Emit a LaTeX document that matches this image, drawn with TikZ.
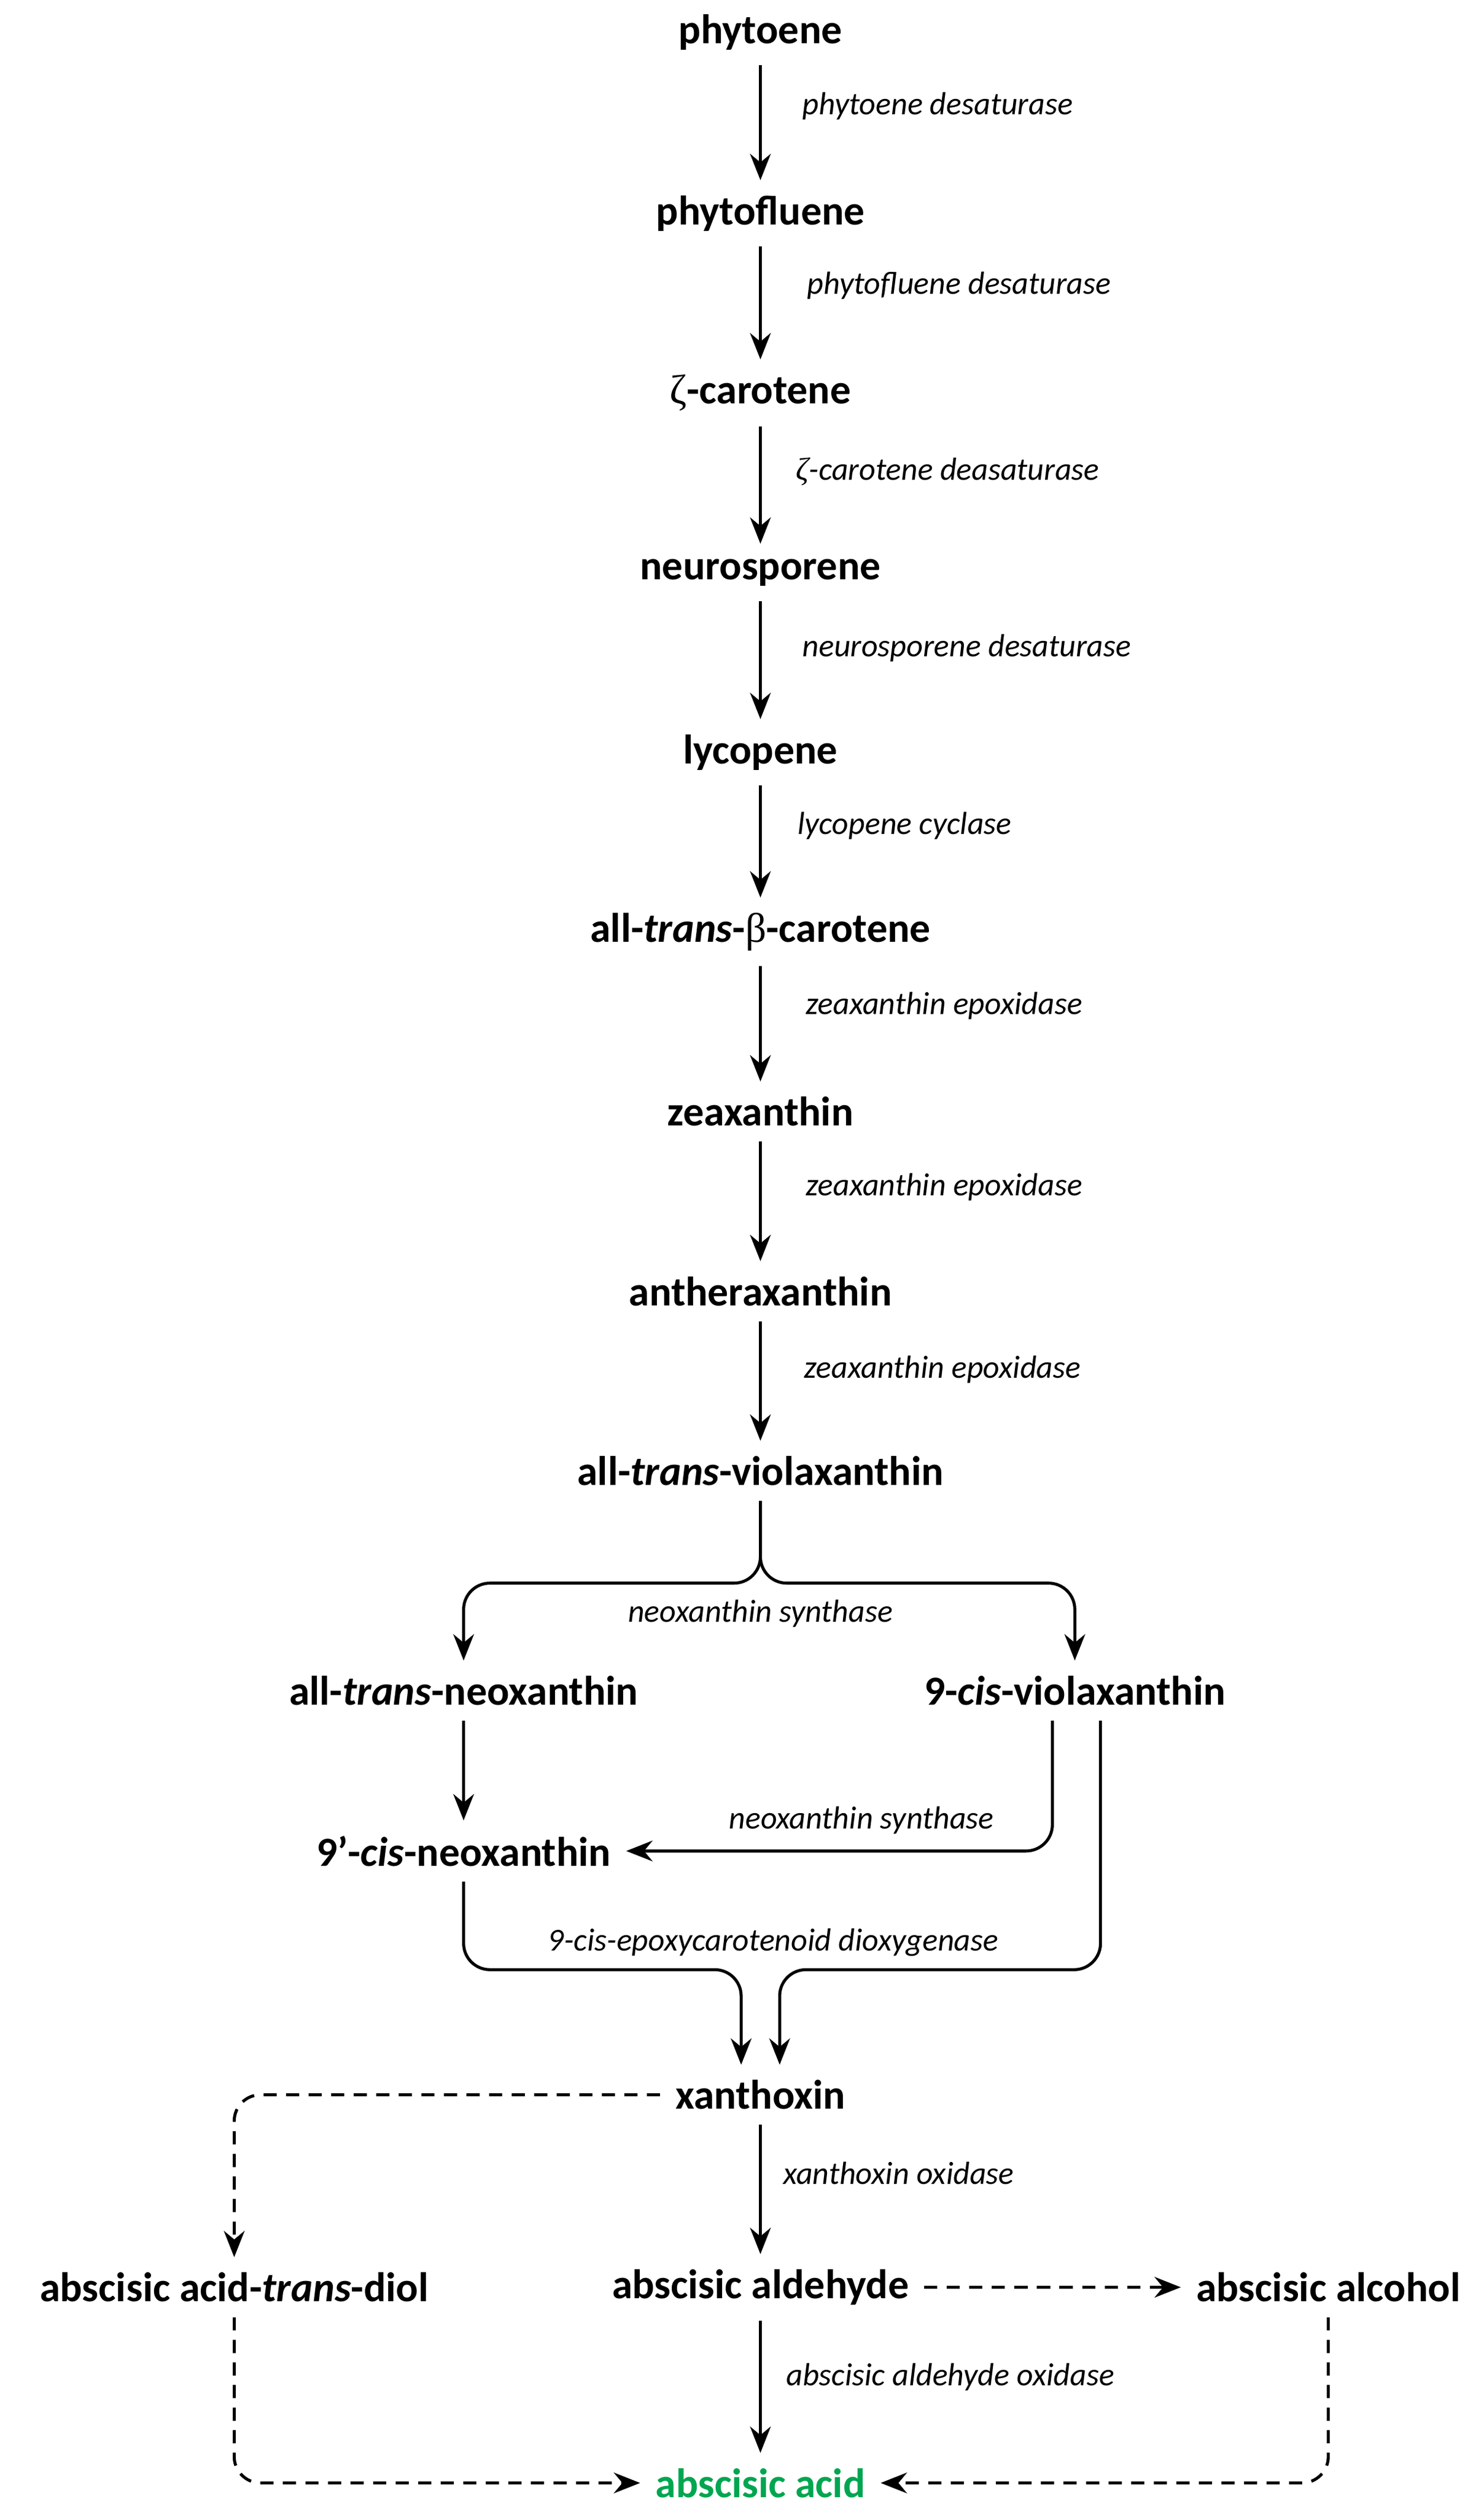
\documentclass[tikz,border=0pt]{standalone}
\usepackage{fontspec}
\setmainfont{Carlito}
\newfontfamily\gr{Liberation Serif}
\usetikzlibrary{arrows.meta}
\begin{document}
\begin{tikzpicture}[x=0.03cm,y=-0.03cm,
  comp/.style={font=\fontsize{22}{26}\selectfont\bfseries,inner sep=8pt},
  enz/.style={font=\fontsize{17}{20}\selectfont\itshape,anchor=west,inner sep=0pt},
  arr/.style={line width=1.6pt,-{Stealth[length=14pt,width=11pt]}},
  dsh/.style={arr,dash pattern=on 7pt off 5pt},
  rounded corners=14pt]
\useasboundingbox (0,0) rectangle (925,1568);
\node[comp] (a) at (474,20) {phytoene};
\node[comp] (b) at (474,133) {phytofluene};
\node[comp] (c) at (474,245) {{\gr\mdseries ζ}-carotene};
\node[comp] (d) at (474,357) {neurosporene};
\node[comp] (e) at (474,469) {lycopene};
\node[comp] (f) at (474,581) {all-\textit{trans}-{\gr\mdseries β}-carotene};
\node[comp] (g) at (474,693) {zeaxanthin};
\node[comp] (h) at (474,805) {antheraxanthin};
\node[comp] (i) at (474,917) {all-\textit{trans}-violaxanthin};
\node[comp] (j) at (289,1054) {all-\textit{trans}-neoxanthin};
\node[comp] (k) at (670,1054) {9-\textit{cis}-violaxanthin};
\node[comp] (l) at (289,1154) {9'-\textit{cis}-neoxanthin};
\node[comp] (m) at (474,1306) {xanthoxin};
\node[comp] (n) at (146,1426) {abscisic acid-\textit{trans}-diol};
\node[comp] (o) at (474,1426) {abscisic aldehyde};
\node[comp] (p) at (828,1426) {abscisic alcohol};
\node[comp,text={rgb,255:red,0;green,166;blue,80}] (q) at (474,1548) {abscisic acid};
\foreach \u/\v in {a/b,b/c,c/d,d/e,e/f,f/g,g/h,h/i,j/l,m/o,o/q}
  \draw[arr] (\u.south) -- (\v.north);
\node[enz] at (500,66) {phytoene desaturase};
\node[enz] at (503,178) {phytofluene desaturase};
\node[enz] at (496,294) {{\gr ζ}-carotene deasaturase};
\node[enz] at (500,404) {neurosporene desaturase};
\node[enz] at (497,515) {lycopene cyclase};
\node[enz] at (502,627) {zeaxanthin epoxidase};
\node[enz] at (502,740) {zeaxanthin epoxidase};
\node[enz] at (501,854) {zeaxanthin epoxidase};
\node[enz,anchor=center] at (474,1006) {neoxanthin synthase};
\node[enz,anchor=center] at (537,1135) {neoxanthin synthase};
\node[enz,anchor=center] at (482,1211) {9-cis-epoxycarotenoid dioxygenase};
\node[enz] at (488,1355) {xanthoxin oxidase};
\node[enz] at (490,1482) {abscisic aldehyde oxidase};
\draw[arr] (i.south) |- (289,987) -- (j.north);
\draw[arr] (i.south) |- (670,987) -- (k.north);
\draw[arr] (k.south -| 656,0) |- (l.east);
\draw[arr] (l.south) |- (462,1228) -- (m.north -| 462,0);
\draw[arr] (k.south -| 686,0) |- (486,1228) -- (m.north -| 486,0);
\draw[dsh] (m.west) -| (n.north);
\draw[dsh] (o.east) -- (p.west);
\draw[dsh] (n.south) |- (q.west);
\draw[dsh] (p.south) |- (q.east);
\end{tikzpicture}
\end{document}
